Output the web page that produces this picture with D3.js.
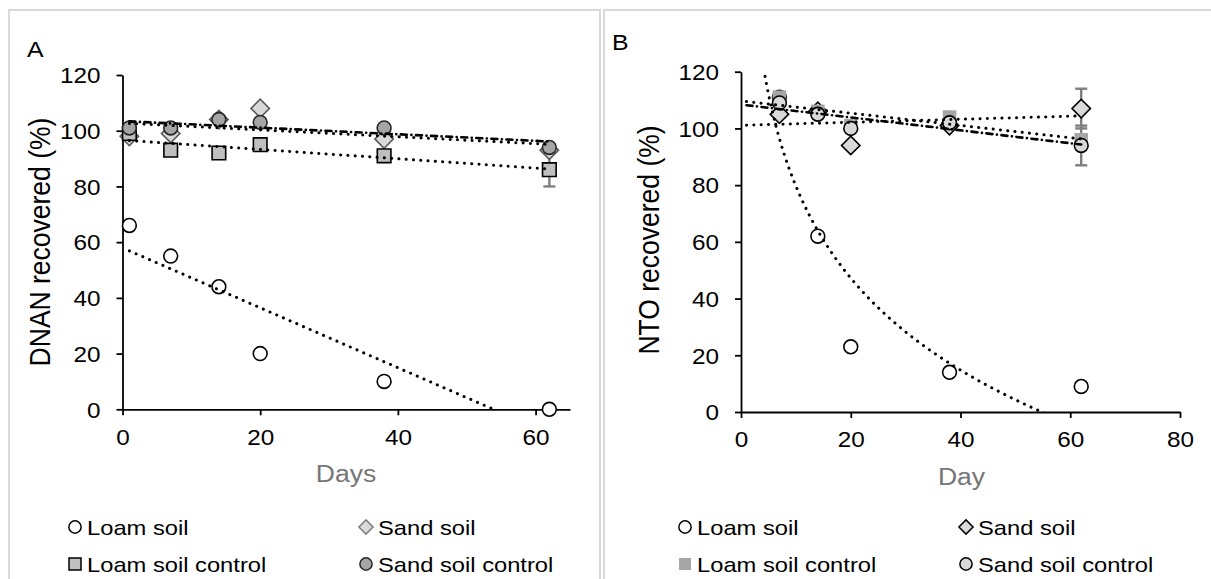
<!DOCTYPE html>
<html>
<head>
<meta charset="utf-8">
<script src="https://cdn.jsdelivr.net/npm/d3@7"></script>
<style>
  body { margin: 0; background: #fff; }
  text { font-family: "Liberation Sans", Arial, sans-serif; fill: #000; }
</style>
</head>
<body>
<div id="chart"></div>
<script>
// ---- data ----
var daysA = [1, 7, 14, 20, 38, 62];
var loamA = [66, 55, 44, 20, 10, 0];
var sandA = [98, 99, 104, 108, 97, 93];
var loamCtrlA = [99, 93, 92, 95, 91, 86];
var sandCtrlA = [101, 101, 104, 103, 101, 94];
var loamCtrlErrA = [0, 0, 0, 0, 0, 6];

var daysB = [7, 14, 20, 38, 62];
var loamB = [111, 62, 23, 14, 9];
var sandB = [105, 106, 94, 101, 107];
var loamCtrlB = [111, 106, 101, 104, 96];
var sandCtrlB = [109, 105, 100, 102, 94];
var sandErrB = [0, 0, 0, 0, 7];
var sandCtrlErrB = [0, 0, 0, 0, 7];

var yTicks = [0, 20, 40, 60, 80, 100, 120];
var xTicksA = [0, 20, 40, 60];
var xTicksB = [0, 20, 40, 60, 80];
var legendNames = ['Loam soil', 'Sand soil', 'Loam soil control', 'Sand soil control'];

var SX = 1.13; // text in the figure is a bit wider than Arial

var svg = d3.select('#chart').append('svg')
  .attr('width', 1211)
  .attr('height', 579);

// least squares trendlines, like the spreadsheet does
function linFit(xs, ys) {
  var mx = d3.mean(xs), my = d3.mean(ys);
  var sxy = d3.sum(xs, function (x, i) { return (x - mx) * (ys[i] - my); });
  var sxx = d3.sum(xs, function (x) { return (x - mx) * (x - mx); });
  var b = sxy / sxx;
  return function (x) { return my + b * (x - mx); };
}
function logFit(xs, ys) {
  var f = linFit(xs.map(Math.log), ys);
  return function (x) { return f(Math.log(x)); };
}

function sText(g, x, y, str, size, anchor, rot) {
  var t = g.append('text')
    .attr('transform', 'translate(' + x + ',' + y + ') scale(' + SX + ',1)' + (rot ? ' rotate(' + rot + ')' : ''))
    .attr('font-size', size)
    .attr('text-anchor', anchor || 'start')
    .text(str);
  return t;
}

function marker(sel, shape, size) {
  var type = shape == 'circle' ? d3.symbolCircle : d3.symbolSquare;
  sel.attr('d', d3.symbol().type(type).size(size)());
}

function drawPanel(cfg) {
  var g = svg.append('g');

  g.append('rect')
    .attr('x', cfg.box[0]).attr('y', 10)
    .attr('width', cfg.box[1] - cfg.box[0]).attr('height', 620)
    .attr('fill', 'none').attr('stroke', '#d9d9d9').attr('stroke-width', 2);

  var x = d3.scaleLinear().domain([0, cfg.xMax]).range([cfg.left, cfg.right]);
  var y = d3.scaleLinear().domain([0, 120]).range([cfg.bottom, cfg.top]);

  // axes
  var yAxis = g.append('g')
    .attr('transform', 'translate(' + cfg.left + ',0)')
    .call(d3.axisLeft(y).tickValues(yTicks).tickSize(6).tickSizeOuter(0));
  var xAxis = g.append('g')
    .attr('transform', 'translate(0,' + cfg.bottom + ')')
    .call(d3.axisBottom(x).tickValues(cfg.xTicks).tickSize(6).tickSizeOuter(0));
  [xAxis, yAxis].forEach(function (a) {
    a.select('.domain').attr('stroke', '#000').attr('stroke-width', 1.8);
    a.selectAll('.tick line').attr('stroke', '#000').attr('stroke-width', 1.8);
    a.selectAll('text')
      .attr('font-size', 21.5)
      .attr('font-family', '"Liberation Sans", Arial, sans-serif')
      .attr('fill', '#000');
  });
  yAxis.selectAll('text').attr('x', -22 / SX).attr('dy', '0.36em')
    .attr('transform', 'scale(' + SX + ',1)');
  xAxis.selectAll('text').attr('y', 20).attr('dy', '0.72em')
    .attr('transform', 'scale(' + SX + ',1)');

  // error bars
  cfg.series.forEach(function (s) {
    if (!s.err) return;
    s.days.forEach(function (d, i) {
      var e = s.err[i];
      if (!e) return;
      var eg = g.append('g').attr('stroke', '#7f7f7f').attr('stroke-width', 2.4);
      eg.append('line').attr('x1', x(d)).attr('x2', x(d))
        .attr('y1', y(s.values[i] - e)).attr('y2', y(s.values[i] + e));
      [-e, e].forEach(function (k) {
        eg.append('line').attr('x1', x(d) - 6).attr('x2', x(d) + 6)
          .attr('y1', y(s.values[i] + k)).attr('y2', y(s.values[i] + k));
      });
    });
  });

  // markers
  cfg.series.forEach(function (s) {
    g.append('g').selectAll('path')
      .data(s.days)
      .enter().append('path')
      .call(marker, s.shape, s.size)
      .attr('transform', function (d, i) {
        return 'translate(' + x(d) + ',' + y(s.values[i]) + ')' + (s.rot ? ' rotate(45)' : '');
      })
      .attr('fill', s.fill)
      .attr('stroke', s.stroke)
      .attr('stroke-width', s.stroke == 'none' ? 0 : 1.6);
  });

  // trendlines on top, clipped to the plot area
  var clipId = 'clip' + cfg.name;
  g.append('clipPath').attr('id', clipId).append('rect')
    .attr('x', cfg.left).attr('y', cfg.top)
    .attr('width', cfg.right - cfg.left).attr('height', cfg.bottom - cfg.top);
  var tl = g.append('g').attr('clip-path', 'url(#' + clipId + ')');
  cfg.series.forEach(function (s) {
    var fn = s.fit == 'log' ? logFit(s.days, s.values) : linFit(s.days, s.values);
    var xs = d3.range(cfg.trendFrom, 62.001, s.fit == 'log' ? 0.25 : 61);
    tl.append('path')
      .datum(xs)
      .attr('d', d3.line().x(function (d) { return x(d); }).y(function (d) { return y(fn(d)); }))
      .attr('fill', 'none')
      .attr('stroke', '#000')
      .attr('stroke-width', s.dash == 'dot' ? 3 : 2.6)
      .attr('stroke-linecap', 'round')
      .attr('stroke-dasharray', s.dash == 'dot' ? '0.1 7.2' : '6 4.5 0.1 4.5');
  });

  // labels
  sText(g, cfg.letter[0], cfg.letter[1], cfg.name, 22);
  sText(g, cfg.xTitle[0], cfg.xTitle[1], cfg.xLabel, 23.5, 'middle').style('fill', '#767676');
  sText(g, cfg.yTitle[0], cfg.yTitle[1], cfg.yLabel, 26.5, 'middle', -90);

  // legend
  cfg.series.forEach(function (s, i) {
    var lx = cfg.legend[i % 2], ly = i < 2 ? 527 : 564;
    g.append('path')
      .call(marker, s.shape, s.legendSize)
      .attr('transform', 'translate(' + lx + ',' + ly + ')' + (s.rot ? ' rotate(45)' : ''))
      .attr('fill', s.fill)
      .attr('stroke', s.legendStroke || s.stroke)
      .attr('stroke-width', s.stroke == 'none' ? 0 : 1.5);
    sText(g, lx + 12, ly + 7.5, legendNames[i], 21);
  });
}

drawPanel({
  name: 'A', xMax: 65, xTicks: xTicksA,
  left: 122.5, right: 570, top: 75, bottom: 409.3,
  box: [9, 600], trendFrom: 1,
  letter: [27, 57], xTitle: [346, 482], yTitle: [50, 242],
  xLabel: 'Days', yLabel: 'DNAN recovered (%)',
  legend: [75, 366],
  series: [
    { days: daysA, values: loamA, shape: 'circle', size: 150, legendSize: 118, fill: '#fff', stroke: '#000', fit: 'lin', dash: 'dot' },
    { days: daysA, values: sandA, shape: 'square', rot: true, size: 170, legendSize: 100, fill: '#d9d9d9', stroke: '#595959', legendStroke: '#7f7f7f', fit: 'lin', dash: 'dot' },
    { days: daysA, values: loamCtrlA, err: loamCtrlErrA, shape: 'square', size: 185, legendSize: 144, fill: '#bfbfbf', stroke: '#000', fit: 'lin', dash: 'dot' },
    { days: daysA, values: sandCtrlA, shape: 'circle', size: 150, legendSize: 118, fill: '#a5a5a5', stroke: '#262626', fit: 'lin', dash: 'dashdot' }
  ]
});

drawPanel({
  name: 'B', xMax: 80, xTicks: xTicksB,
  left: 741, right: 1180, top: 71.7, bottom: 412,
  box: [604, 1230], trendFrom: 1,
  letter: [612, 49.5], xTitle: [961.5, 485], yTitle: [658.5, 240],
  xLabel: 'Day', yLabel: 'NTO recovered (%)',
  legend: [685, 966],
  series: [
    { days: daysB, values: loamB, shape: 'circle', size: 150, legendSize: 118, fill: '#fff', stroke: '#000', fit: 'log', dash: 'dot' },
    { days: daysB, values: sandB, err: sandErrB, shape: 'square', rot: true, size: 170, legendSize: 100, fill: '#d9d9d9', stroke: '#000', fit: 'lin', dash: 'dot' },
    { days: daysB, values: loamCtrlB, shape: 'square', size: 185, legendSize: 144, fill: '#a6a6a6', stroke: 'none', fit: 'lin', dash: 'dot' },
    { days: daysB, values: sandCtrlB, err: sandCtrlErrB, shape: 'circle', size: 150, legendSize: 118, fill: '#d9d9d9', stroke: '#000', fit: 'lin', dash: 'dashdot' }
  ]
});
</script>
</body>
</html>
